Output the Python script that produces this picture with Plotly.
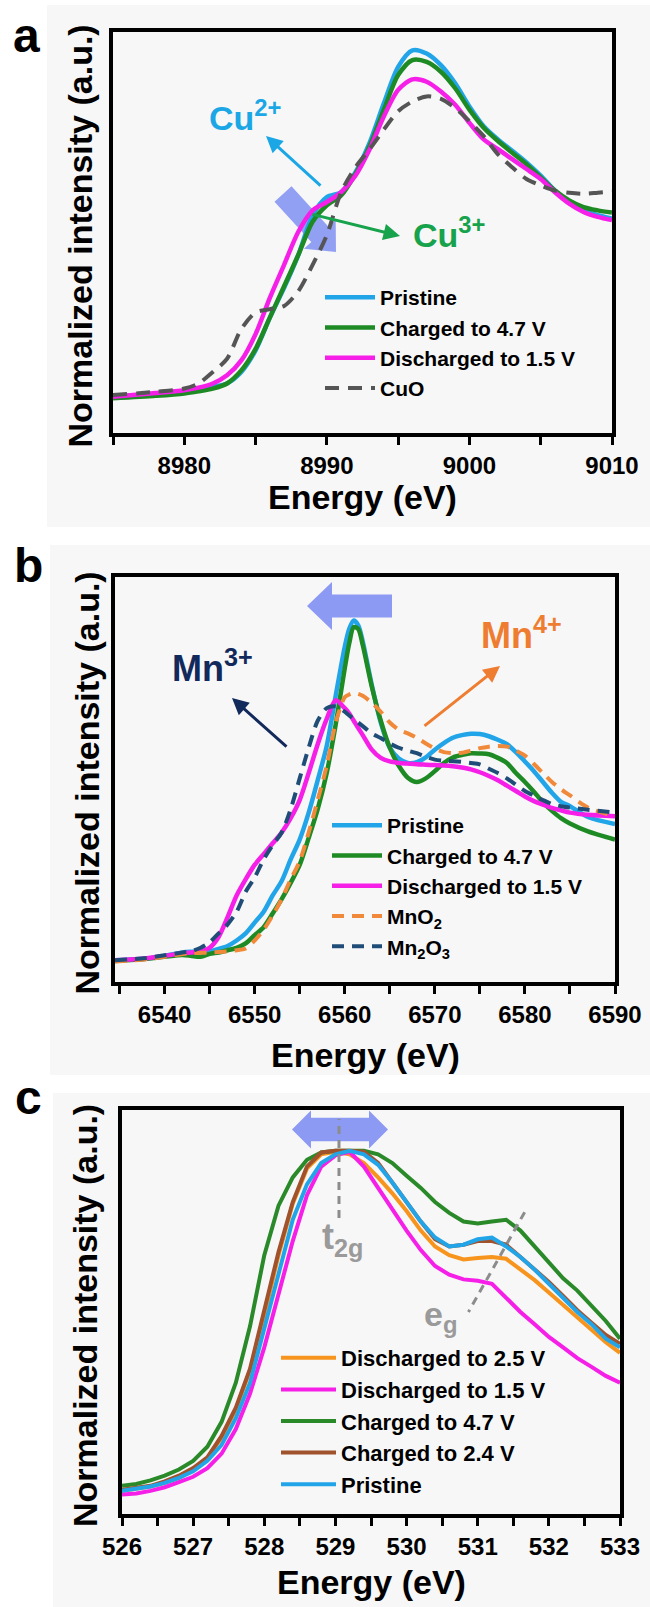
import math
import plotly.graph_objects as go

W, H = 650, 1607
FONT = "Liberation Sans, Arial, sans-serif"

# ---------------- Panel a : Cu K-edge ----------------
energy_a = [8975, 8978, 8980, 8981, 8982, 8983, 8984, 8985, 8986, 8987, 8988, 8989, 8990,
            8991, 8992, 8993, 8994, 8995, 8996, 8997, 8998, 8999, 9000, 9001, 9002, 9003,
            9004, 9005, 9006, 9007, 9008, 9009, 9010]
cu_pristine = [0.00, 0.015, 0.027, 0.04, 0.055, 0.073, 0.136, 0.255, 0.436, 0.600, 0.782, 1.000, 1.100,
               1.127, 1.236, 1.400, 1.618, 1.818, 1.909, 1.891, 1.827, 1.727, 1.600, 1.491, 1.418, 1.355,
               1.291, 1.218, 1.136, 1.073, 1.027, 1.000, 0.982]
cu_charged = [-0.009, 0.005, 0.018, 0.03, 0.045, 0.073, 0.145, 0.264, 0.436, 0.609, 0.782, 0.964, 1.055,
              1.109, 1.227, 1.382, 1.582, 1.773, 1.855, 1.845, 1.791, 1.700, 1.582, 1.482, 1.409, 1.345,
              1.282, 1.209, 1.136, 1.082, 1.045, 1.027, 1.015]
cu_discharged = [0.00, 0.02, 0.036, 0.05, 0.073, 0.118, 0.200, 0.345, 0.545, 0.727, 0.909, 1.027, 1.073,
                 1.127, 1.218, 1.364, 1.545, 1.691, 1.749, 1.736, 1.682, 1.609, 1.509, 1.418, 1.364, 1.309,
                 1.255, 1.200, 1.127, 1.064, 1.018, 0.991, 0.973]
cu_cuo = [0.009, 0.027, 0.045, 0.073, 0.136, 0.209, 0.373, 0.464, 0.482, 0.500, 0.582, 0.727, 0.891,
          1.127, 1.264, 1.364, 1.473, 1.573, 1.627, 1.655, 1.642, 1.591, 1.518, 1.436, 1.336, 1.264,
          1.200, 1.164, 1.136, 1.124, 1.118, 1.124, 1.131]

# ---------------- Panel b : Mn K-edge ----------------
energy_b = [6534.5, 6538, 6540, 6542, 6543, 6544, 6545, 6546, 6547, 6548, 6549, 6550, 6551, 6552,
            6553, 6554, 6555, 6556, 6557, 6558, 6559, 6560, 6560.5, 6561, 6561.5, 6562, 6563, 6564,
            6565, 6566, 6567, 6568, 6569, 6570, 6571, 6572, 6573, 6574, 6575, 6576, 6577, 6578,
            6579, 6580, 6581, 6582, 6583, 6584, 6585, 6587, 6590]
mn_pristine = [0.000, 0.013, 0.032, 0.058, 0.063, 0.066, 0.066, 0.084, 0.105, 0.145, 0.197, 0.276, 0.355,
               0.474, 0.579, 0.737, 0.882, 1.079, 1.316, 1.566, 1.934, 2.289, 2.421, 2.482, 2.447, 2.329,
               2.013, 1.737, 1.553, 1.474, 1.442, 1.447, 1.482, 1.539, 1.587, 1.626, 1.645, 1.655, 1.653,
               1.637, 1.611, 1.579, 1.521, 1.453, 1.382, 1.303, 1.224, 1.158, 1.126, 1.047, 0.995]
mn_charged = [-0.005, 0.011, 0.026, 0.039, 0.032, 0.026, 0.047, 0.058, 0.074, 0.092, 0.124, 0.184, 0.242,
              0.342, 0.447, 0.566, 0.697, 0.895, 1.105, 1.368, 1.724, 2.132, 2.316, 2.434, 2.421, 2.303,
              2.000, 1.750, 1.553, 1.421, 1.334, 1.303, 1.329, 1.382, 1.442, 1.482, 1.500, 1.513, 1.511,
              1.505, 1.479, 1.442, 1.368, 1.303, 1.232, 1.153, 1.092, 1.039, 1.000, 0.942, 0.882]
mn_discharged = [0.000, 0.016, 0.032, 0.053, 0.058, 0.066, 0.092, 0.171, 0.316, 0.474, 0.592, 0.697, 0.776,
                 0.855, 0.934, 1.039, 1.171, 1.368, 1.579, 1.763, 1.900, 1.842, 1.803, 1.750, 1.697, 1.645,
                 1.539, 1.479, 1.453, 1.442, 1.437, 1.432, 1.429, 1.426, 1.424, 1.418, 1.408, 1.395, 1.374,
                 1.347, 1.316, 1.276, 1.237, 1.197, 1.163, 1.137, 1.113, 1.095, 1.079, 1.063, 1.053]
mn_mno2 = [-0.008, 0.008, 0.026, 0.047, 0.053, 0.055, 0.058, 0.061, 0.066, 0.074, 0.087, 0.145, 0.224,
           0.329, 0.447, 0.592, 0.724, 0.934, 1.171, 1.421, 1.737, 1.921, 1.942, 1.953, 1.947, 1.932,
           1.882, 1.816, 1.737, 1.684, 1.658, 1.626, 1.584, 1.547, 1.521, 1.513, 1.516, 1.532, 1.550,
           1.561, 1.566, 1.561, 1.532, 1.495, 1.434, 1.368, 1.303, 1.250, 1.205, 1.116, 1.053]
mn_mn2o3 = [0.000, 0.018, 0.037, 0.058, 0.068, 0.092, 0.132, 0.197, 0.263, 0.355, 0.500, 0.605, 0.737,
            0.842, 0.934, 1.105, 1.329, 1.553, 1.750, 1.842, 1.855, 1.816, 1.789, 1.763, 1.737, 1.711,
            1.658, 1.624, 1.584, 1.553, 1.532, 1.513, 1.487, 1.466, 1.458, 1.455, 1.450, 1.442, 1.432,
            1.400, 1.368, 1.329, 1.282, 1.237, 1.203, 1.171, 1.142, 1.126, 1.116, 1.100, 1.079]

# ---------------- Panel c : O K-edge ----------------
energy_c = [526.0, 526.2, 526.4, 526.6, 526.8, 527.0, 527.2, 527.4, 527.6, 527.8, 528.0, 528.2,
            528.4, 528.6, 528.8, 529.0, 529.2, 529.4, 529.6, 529.8, 530.0, 530.2, 530.4, 530.6,
            530.8, 531.0, 531.2, 531.4, 531.6, 531.8, 532.0, 532.2, 532.4, 532.6, 532.8, 533.0]
o_dis25 = [0.064, 0.069, 0.076, 0.086, 0.100, 0.123, 0.155, 0.211, 0.289, 0.397, 0.549, 0.716,
           0.858, 0.956, 0.995, 1.002, 0.995, 0.971, 0.931, 0.887, 0.838, 0.784, 0.740, 0.716,
           0.704, 0.708, 0.711, 0.706, 0.676, 0.647, 0.613, 0.578, 0.544, 0.510, 0.475, 0.446]
o_dis15 = [0.054, 0.057, 0.064, 0.074, 0.088, 0.103, 0.127, 0.167, 0.235, 0.333, 0.461, 0.608,
           0.755, 0.882, 0.961, 0.992, 1.002, 0.961, 0.902, 0.843, 0.784, 0.730, 0.686, 0.662,
           0.649, 0.645, 0.637, 0.598, 0.559, 0.525, 0.490, 0.461, 0.431, 0.407, 0.382, 0.363]
o_ch47 = [0.078, 0.083, 0.093, 0.106, 0.123, 0.147, 0.186, 0.255, 0.363, 0.520, 0.716, 0.853,
          0.931, 0.980, 1.000, 1.005, 1.005, 1.005, 0.995, 0.971, 0.936, 0.902, 0.863, 0.833,
          0.809, 0.804, 0.809, 0.814, 0.784, 0.740, 0.696, 0.652, 0.618, 0.574, 0.534, 0.485]
o_ch24 = [0.067, 0.072, 0.078, 0.090, 0.106, 0.127, 0.157, 0.216, 0.294, 0.402, 0.559, 0.725,
          0.863, 0.961, 1.000, 1.005, 1.005, 1.002, 0.971, 0.917, 0.863, 0.809, 0.760, 0.740,
          0.745, 0.755, 0.755, 0.745, 0.711, 0.676, 0.642, 0.603, 0.564, 0.529, 0.495, 0.471]
o_pristine = [0.064, 0.069, 0.076, 0.086, 0.100, 0.118, 0.147, 0.191, 0.265, 0.363, 0.510, 0.667,
              0.814, 0.912, 0.971, 0.995, 1.005, 0.995, 0.966, 0.917, 0.863, 0.809, 0.765, 0.740,
              0.745, 0.760, 0.765, 0.740, 0.711, 0.676, 0.637, 0.598, 0.559, 0.525, 0.485, 0.461]

# ---------------- styles ----------------
C_BLUE = "#22a5e8"
C_GREEN = "#1d8a24"
C_PINK = "#f51fe8"
C_GRAY = "#555555"
C_ORANGE_D = "#f08a3a"
C_NAVY_D = "#1f4d78"
C_ORANGE = "#f7941d"
C_BROWN = "#a0522d"
C_GREEN_C = "#2a8a2a"
ARROW_FILL = "rgba(128,145,243,0.85)"

fig = go.Figure()

def add(x, y, name, color, xa, ya, leg, dash=None, shape="spline", width=4.5):
    fig.add_trace(go.Scatter(
        x=x, y=y, name=name, mode="lines",
        line=dict(color=color, width=width, dash=dash, shape=shape, smoothing=0.8 if shape == "spline" else None),
        xaxis=xa, yaxis=ya, legend=leg))

add(energy_a, cu_pristine, "Pristine", C_BLUE, "x", "y", "legend")
add(energy_a, cu_charged, "Charged to 4.7 V", C_GREEN, "x", "y", "legend")
add(energy_a, cu_discharged, "Discharged to 1.5 V", C_PINK, "x", "y", "legend")
add(energy_a, cu_cuo, "CuO", C_GRAY, "x", "y", "legend", dash="14px,9px", width=4)

add(energy_b, mn_pristine, "Pristine", C_BLUE, "x2", "y2", "legend2")
add(energy_b, mn_charged, "Charged to 4.7 V", C_GREEN, "x2", "y2", "legend2")
add(energy_b, mn_discharged, "Discharged to 1.5 V", C_PINK, "x2", "y2", "legend2")
add(energy_b, mn_mno2, "MnO<sub>2</sub>", C_ORANGE_D, "x2", "y2", "legend2", dash="12px,8px", width=4)
add(energy_b, mn_mn2o3, "Mn<sub>2</sub>O<sub>3</sub>", C_NAVY_D, "x2", "y2", "legend2", dash="12px,8px", width=4)

add(energy_c, o_dis25, "Discharged to 2.5 V", C_ORANGE, "x3", "y3", "legend3", shape="linear", width=4)
add(energy_c, o_dis15, "Discharged to 1.5 V", C_PINK, "x3", "y3", "legend3", shape="linear", width=4)
add(energy_c, o_ch47, "Charged to 4.7 V", C_GREEN_C, "x3", "y3", "legend3", shape="linear", width=4)
add(energy_c, o_ch24, "Charged to 2.4 V", C_BROWN, "x3", "y3", "legend3", shape="linear", width=4)
add(energy_c, o_pristine, "Pristine", C_BLUE, "x3", "y3", "legend3", shape="linear", width=4)

def px(x):
    return x / W

def py(y):
    return 1 - y / H

# frames in pixels: (left, right, top, bottom)
FA = (113, 612, 32, 433)
FB = (115, 615, 577, 982)
FC = (122, 620, 1110, 1514)

def dom(f):
    return [px(f[0]), px(f[1])], [py(f[3]), py(f[2])]

tickfont = dict(family=FONT, size=24, color="black", weight="bold")

def xaxis(f, rng, tick0, dtick, mdt, anchor):
    xd, _ = dom(f)
    return dict(domain=xd, range=rng, anchor=anchor, showline=True, linewidth=4, linecolor="black",
                mirror=True, ticks="outside", ticklen=8, tickwidth=3, tickcolor="black",
                tick0=tick0, dtick=dtick, tickfont=tickfont, showgrid=False, zeroline=False,
                automargin=False, fixedrange=True,
                minor=dict(tick0=rng[0] if mdt == 0.5 else tick0 - mdt, dtick=mdt, ticks="outside",
                           ticklen=8, tickwidth=3, tickcolor="black", showgrid=False))

def yaxis(f, rng, anchor):
    _, yd = dom(f)
    return dict(domain=yd, range=rng, anchor=anchor, showline=True, linewidth=4, linecolor="black",
                mirror=True, ticks="", showticklabels=False, showgrid=False, zeroline=False,
                automargin=False, fixedrange=True)

def legfont(s):
    return dict(family=FONT, size=s, color="black", weight="bold")

fig.update_layout(
    template="none",
    width=W, height=H, autosize=False,
    margin=dict(l=0, r=0, t=0, b=0, pad=0, autoexpand=False),
    paper_bgcolor="white", plot_bgcolor="rgba(0,0,0,0)",
    font=dict(family=FONT, color="black"),
    xaxis=xaxis(FA, [8975, 9010], 8980, 10, 5, "y"),
    yaxis=yaxis(FA, [-0.2, 2.01], "x"),
    xaxis2=xaxis(FB, [6534.5, 6590], 6540, 10, 5, "y2"),
    yaxis2=yaxis(FB, [-0.158, 2.8], "x2"),
    xaxis3=xaxis(FC, [526, 533], 526, 1, 0.5, "y3"),
    yaxis3=yaxis(FC, [0, 1.1176], "x3"),
    legend=dict(x=px(320), y=py(277), xanchor="left", yanchor="top", font=legfont(21),
                bgcolor="rgba(0,0,0,0)", borderwidth=0, itemwidth=50, tracegroupgap=0),
    legend2=dict(x=px(327), y=py(805), xanchor="left", yanchor="top", font=legfont(21),
                 bgcolor="rgba(0,0,0,0)", borderwidth=0, itemwidth=50, tracegroupgap=0),
    legend3=dict(x=px(276), y=py(1337), xanchor="left", yanchor="top", font=legfont(22),
                 bgcolor="rgba(0,0,0,0)", borderwidth=0, itemwidth=55, tracegroupgap=0),
)

shapes = []
# panel backgrounds
for (x0, y0, y1) in [(47, 5, 527), (50, 545, 1075), (53, 1093, 1607)]:
    shapes.append(dict(type="rect", xref="paper", yref="paper", x0=px(x0), x1=1, y0=py(y1), y1=py(y0),
                       fillcolor="#f7f7f7", line=dict(width=0), layer="below"))

def poly_path(pts):
    return "M " + " L ".join(f"{px(x):.5f},{py(y):.5f}" for x, y in pts) + " Z"

def arrow_pts(tail, tip, bh, hh, hl):
    dx, dy = tip[0] - tail[0], tip[1] - tail[1]
    L = math.hypot(dx, dy)
    ux, uy = dx / L, dy / L
    nx, ny = -uy, ux
    bx, by = tip[0] - ux * hl, tip[1] - uy * hl
    return [(tail[0] + nx * bh, tail[1] + ny * bh), (bx + nx * bh, by + ny * bh),
            (bx + nx * hh, by + ny * hh), tip, (bx - nx * hh, by - ny * hh),
            (bx - nx * bh, by - ny * bh), (tail[0] - nx * bh, tail[1] - ny * bh)]

# thick arrows
shapes.append(dict(type="path", xref="paper", yref="paper",
                   path=poly_path(arrow_pts((283, 194), (336, 252), 11.5, 21.5, 24)),
                   fillcolor=ARROW_FILL, line=dict(width=0), layer="below"))
shapes.append(dict(type="path", xref="paper", yref="paper",
                   path=poly_path(arrow_pts((392, 606), (307, 606), 11.5, 24, 25)),
                   fillcolor="rgb(140,154,244)", line=dict(width=0), layer="above"))
cy = 1129.5
dbl = [(292, cy), (311, cy - 19), (311, cy - 11.7), (369, cy - 11.7), (369, cy - 19), (388, cy),
       (369, cy + 19), (369, cy + 11.7), (311, cy + 11.7), (311, cy + 19)]
shapes.append(dict(type="path", xref="paper", yref="paper", path=poly_path(dbl),
                   fillcolor="rgb(140,154,244)", line=dict(width=0), layer="above"))
# guide lines in panel c
shapes.append(dict(type="line", xref="x3", yref="y3", x0=529.05, x1=529.05, y0=0.819, y1=1.093,
                   line=dict(color="#8c8c8c", width=3, dash="8px,6px")))
shapes.append(dict(type="line", xref="x3", yref="y3", x0=531.66, x1=530.87, y0=0.835, y1=0.559,
                   line=dict(color="#8c8c8c", width=3, dash="8px,6px")))
fig.update_layout(shapes=shapes)

ann = []
def text(x, y, t, size, color="black", xanchor="center", angle=0):
    ann.append(dict(x=px(x), y=py(y), xref="paper", yref="paper", text=t, showarrow=False,
                    xanchor=xanchor, yanchor="middle", textangle=angle,
                    font=dict(family=FONT, size=size, color=color, weight="bold")))

def arrow(tail, head, color, w=3):
    ann.append(dict(x=px(head[0]), y=py(head[1]), xref="paper", yref="paper", text="",
                    showarrow=True, ax=tail[0] - head[0], ay=tail[1] - head[1], axref="pixel", ayref="pixel",
                    arrowhead=2, arrowsize=1.1, arrowwidth=w, arrowcolor=color, standoff=0))

# panel letters
text(26, 36, "a", 48)
text(29, 566, "b", 48)
text(28, 1097, "c", 48)
# axis titles
for f, ytc, ytx in [(FA, 497, 79), (FB, 1055, 86), (FC, 1582, 85)]:
    text((f[0] + f[1]) / 2, ytc, "Energy (eV)", 34)
    text(ytx, (f[2] + f[3]) / 2 + 4, "Normalized intensity (a.u.)", 34, angle=-90)

# panel a labels
text(207, 115, "Cu<sup>2+</sup>", 34, "#1ba7e6", xanchor="left")
text(411, 232, "Cu<sup>3+</sup>", 34, "#17a24c", xanchor="left")
arrow((322, 187), (266, 136), "#1ba7e6")
arrow((311, 214), (400, 236), "#17a24c")
# panel b labels
text(170, 666, "Mn<sup>3+</sup>", 36, "#12295c", xanchor="left")
text(479, 633, "Mn<sup>4+</sup>", 36, "#ef7d31", xanchor="left")
arrow((288, 748), (232, 698), "#12295c")
arrow((423, 727), (500, 666), "#ef7d31")
# panel c labels
text(342, 1239, "t<sub>2g</sub>", 36, "#9a9a9a")
text(440, 1316, "e<sub>g</sub>", 34, "#9a9a9a")

fig.update_layout(annotations=ann)
fig.write_html("out.html", config={"displayModeBar": False, "responsive": False},
               post_script="document.body.style.margin='0px';document.body.style.overflow='hidden';")
